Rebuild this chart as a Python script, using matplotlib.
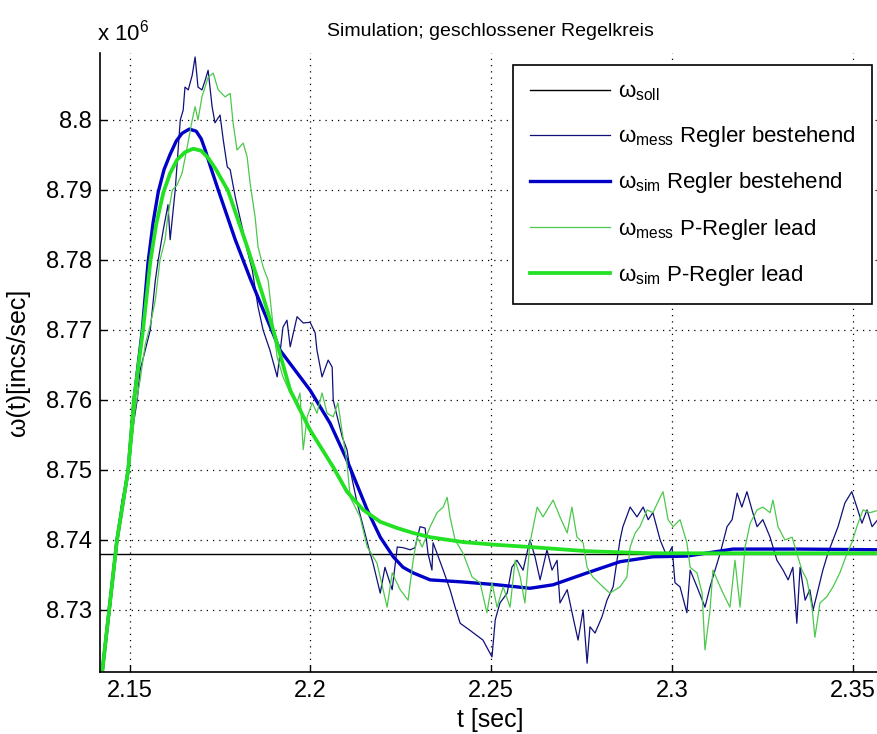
import matplotlib
matplotlib.use("Agg")
import matplotlib.pyplot as plt

plt.rcParams['font.family'] = ['Liberation Sans', 'DejaVu Sans']
plt.rcParams['mathtext.fontset'] = 'custom'
plt.rcParams['mathtext.rm'] = 'Liberation Sans'
plt.rcParams['mathtext.it'] = 'Liberation Sans'

# omega values in units of 1e6 incs/sec
w_soll = 8.738

t_sim_b = [2.1424, 2.1465, 2.1496, 2.1512, 2.1535, 2.1551, 2.1565, 2.1579, 2.1595, 2.1612,
           2.1629, 2.1645, 2.1665, 2.1684, 2.1698, 2.1709, 2.1725, 2.1745, 2.1792, 2.1833,
           2.1869, 2.1916, 2.1999, 2.2054, 2.2101, 2.2157, 2.2193, 2.2229, 2.2256, 2.2284,
           2.2331, 2.2422, 2.2516, 2.2607, 2.2671, 2.2765, 2.2856, 2.2947, 2.3041, 2.3168,
           2.3354, 2.3575]
w_sim_b = [8.7211, 8.7400, 8.7500, 8.7600, 8.7700, 8.7797, 8.7854, 8.7897, 8.7929, 8.7951,
           8.7970, 8.7981, 8.7987, 8.7984, 8.7973, 8.7957, 8.7931, 8.7900, 8.7829, 8.7774,
           8.7729, 8.7671, 8.7614, 8.7567, 8.7514, 8.7443, 8.7404, 8.7376, 8.7361, 8.7353,
           8.7343, 8.7340, 8.7336, 8.7331, 8.7336, 8.7353, 8.7369, 8.7376, 8.7377, 8.7387,
           8.7387, 8.7386]

t_sim_g = [2.1424, 2.1465, 2.1496, 2.1512, 2.1537, 2.1557, 2.1573, 2.1593, 2.1612, 2.1631,
           2.1653, 2.1676, 2.1698, 2.1717, 2.1739, 2.1772, 2.1825, 2.1866, 2.1897, 2.1944,
           2.1999, 2.2063, 2.2101, 2.2146, 2.2193, 2.2240, 2.2284, 2.2331, 2.2422, 2.2516,
           2.2607, 2.2765, 2.2947, 2.3132, 2.3575]
w_sim_g = [8.7211, 8.7400, 8.7500, 8.7600, 8.7700, 8.7797, 8.7850, 8.7896, 8.7924, 8.7943,
           8.7954, 8.7959, 8.7956, 8.7946, 8.7929, 8.7899, 8.7819, 8.7753, 8.7700, 8.7614,
           8.7557, 8.7504, 8.7469, 8.7443, 8.7426, 8.7417, 8.7410, 8.7404, 8.7397, 8.7393,
           8.7390, 8.7384, 8.7381, 8.7381, 8.7381]

t_mess_b = [2.1424, 2.1446, 2.1463, 2.1479, 2.1493, 2.1501, 2.1512, 2.1521, 2.1529, 2.1543,
            2.1557, 2.1571, 2.1579, 2.1593, 2.1606, 2.1612, 2.1626, 2.1640, 2.1648, 2.1653,
            2.1662, 2.1673, 2.1681, 2.1689, 2.1700, 2.1709, 2.1717, 2.1728, 2.1736, 2.1750,
            2.1759, 2.1770, 2.1778, 2.1792, 2.1811, 2.1825, 2.1839, 2.1855, 2.1869, 2.1888,
            2.1908, 2.1924, 2.1935, 2.1944, 2.1963, 2.1980, 2.1999, 2.2013, 2.2018, 2.2032,
            2.2049, 2.2060, 2.2063, 2.2074, 2.2088, 2.2101, 2.2110, 2.2129, 2.2146, 2.2165,
            2.2173, 2.2193, 2.2206, 2.2226, 2.2240, 2.2256, 2.2276, 2.2289, 2.2303, 2.2317,
            2.2325, 2.2336, 2.2339, 2.2350, 2.2367, 2.2386, 2.2400, 2.2414, 2.2441, 2.2477,
            2.2502, 2.2511, 2.2524, 2.2544, 2.2557, 2.2571, 2.2588, 2.2607, 2.2621, 2.2635,
            2.2654, 2.2668, 2.2682, 2.2690, 2.2710, 2.2726, 2.2740, 2.2754, 2.2765, 2.2773,
            2.2787, 2.2806, 2.2820, 2.2837, 2.2856, 2.2864, 2.2884, 2.2903, 2.2920, 2.2934,
            2.2947, 2.2967, 2.2986, 2.3000, 2.3008, 2.3022, 2.3041, 2.3050, 2.3069, 2.3091,
            2.3105, 2.3113, 2.3133, 2.3152, 2.3166, 2.3180, 2.3193, 2.3207, 2.3221, 2.3235,
            2.3251, 2.3271, 2.3290, 2.3307, 2.3321, 2.3334, 2.3345, 2.3354, 2.3368, 2.3381,
            2.3390, 2.3417, 2.3431, 2.3445, 2.3459, 2.3478, 2.3497, 2.3511, 2.3525, 2.3539,
            2.3553, 2.3575]
w_mess_b = [8.7211, 8.7300, 8.7393, 8.7457, 8.7489, 8.7521, 8.7571, 8.7600, 8.7643, 8.7671,
            8.7700, 8.7771, 8.7800, 8.7843, 8.7879, 8.7829, 8.7900, 8.8000, 8.8014, 8.8047,
            8.8043, 8.8064, 8.8090, 8.8047, 8.8043, 8.8057, 8.8071, 8.8019, 8.7996, 8.8007,
            8.7971, 8.7933, 8.7929, 8.7890, 8.7847, 8.7814, 8.7786, 8.7733, 8.7700, 8.7671,
            8.7633, 8.7704, 8.7714, 8.7676, 8.7719, 8.7710, 8.7711, 8.7696, 8.7671, 8.7633,
            8.7657, 8.7647, 8.7600, 8.7576, 8.7547, 8.7529, 8.7500, 8.7453, 8.7419, 8.7381,
            8.7367, 8.7324, 8.7361, 8.7329, 8.7390, 8.7389, 8.7386, 8.7389, 8.7419, 8.7417,
            8.7381, 8.7357, 8.7396, 8.7381, 8.7357, 8.7329, 8.7304, 8.7281, 8.7271, 8.7257,
            8.7233, 8.7286, 8.7310, 8.7324, 8.7361, 8.7371, 8.7357, 8.7400, 8.7376, 8.7343,
            8.7386, 8.7357, 8.7371, 8.7310, 8.7329, 8.7290, 8.7257, 8.7300, 8.7224, 8.7276,
            8.7267, 8.7290, 8.7314, 8.7333, 8.7400, 8.7419, 8.7447, 8.7433, 8.7447, 8.7429,
            8.7439, 8.7400, 8.7376, 8.7390, 8.7339, 8.7333, 8.7296, 8.7357, 8.7333, 8.7304,
            8.7333, 8.7347, 8.7381, 8.7419, 8.7429, 8.7467, 8.7447, 8.7469, 8.7443, 8.7419,
            8.7429, 8.7404, 8.7371, 8.7357, 8.7343, 8.7361, 8.7281, 8.7361, 8.7314, 8.7329,
            8.7300, 8.7357, 8.7381, 8.7400, 8.7419, 8.7453, 8.7469, 8.7447, 8.7424, 8.7443,
            8.7419, 8.7433]

t_mess_g = [2.1424, 2.1446, 2.1465, 2.1479, 2.1496, 2.1507, 2.1515, 2.1529, 2.1543, 2.1557,
            2.1571, 2.1584, 2.1598, 2.1606, 2.1618, 2.1631, 2.1645, 2.1659, 2.1673, 2.1681,
            2.1689, 2.1700, 2.1717, 2.1731, 2.1745, 2.1764, 2.1778, 2.1786, 2.1797, 2.1814,
            2.1825, 2.1833, 2.1847, 2.1855, 2.1869, 2.1883, 2.1897, 2.1908, 2.1924, 2.1944,
            2.1963, 2.1971, 2.1980, 2.1991, 2.2005, 2.2018, 2.2032, 2.2046, 2.2063, 2.2076,
            2.2088, 2.2101, 2.2110, 2.2137, 2.2157, 2.2184, 2.2212, 2.2226, 2.2248, 2.2270,
            2.2284, 2.2295, 2.2309, 2.2331, 2.2350, 2.2367, 2.2378, 2.2386, 2.2400, 2.2422,
            2.2447, 2.2469, 2.2488, 2.2502, 2.2516, 2.2533, 2.2552, 2.2566, 2.2580, 2.2593,
            2.2607, 2.2627, 2.2643, 2.2671, 2.2690, 2.2710, 2.2723, 2.2737, 2.2754, 2.2765,
            2.2781, 2.2809, 2.2828, 2.2856, 2.2875, 2.2884, 2.2898, 2.2911, 2.2931, 2.2947,
            2.2967, 2.2975, 2.2989, 2.3003, 2.3022, 2.3041, 2.3050, 2.3069, 2.3083, 2.3091,
            2.3105, 2.3113, 2.3133, 2.3141, 2.3160, 2.3174, 2.3188, 2.3202, 2.3216, 2.3235,
            2.3251, 2.3271, 2.3279, 2.3293, 2.3312, 2.3332, 2.3345, 2.3359, 2.3373, 2.3387,
            2.3395, 2.3409, 2.3428, 2.3445, 2.3464, 2.3484, 2.3497, 2.3511, 2.3528, 2.3547,
            2.3575]
w_mess_g = [8.7211, 8.7300, 8.7393, 8.7443, 8.7493, 8.7543, 8.7586, 8.7629, 8.7679, 8.7707,
            8.7743, 8.7800, 8.7829, 8.7864, 8.7900, 8.7907, 8.7924, 8.7961, 8.8000, 8.8019,
            8.8000, 8.8033, 8.8061, 8.8067, 8.8043, 8.8033, 8.8038, 8.7996, 8.7957, 8.7967,
            8.7947, 8.7910, 8.7861, 8.7819, 8.7790, 8.7771, 8.7704, 8.7661, 8.7633, 8.7610,
            8.7596, 8.7610, 8.7529, 8.7576, 8.7596, 8.7581, 8.7610, 8.7581, 8.7576, 8.7596,
            8.7553, 8.7510, 8.7461, 8.7433, 8.7390, 8.7367, 8.7304, 8.7353, 8.7329, 8.7314,
            8.7371, 8.7404, 8.7390, 8.7419, 8.7439, 8.7447, 8.7461, 8.7433, 8.7400, 8.7381,
            8.7347, 8.7339, 8.7296, 8.7339, 8.7304, 8.7333, 8.7304, 8.7371, 8.7347, 8.7310,
            8.7396, 8.7447, 8.7433, 8.7457, 8.7433, 8.7410, 8.7447, 8.7404, 8.7396, 8.7361,
            8.7347, 8.7333, 8.7324, 8.7333, 8.7347, 8.7390, 8.7410, 8.7419, 8.7443, 8.7439,
            8.7461, 8.7469, 8.7429, 8.7419, 8.7429, 8.7396, 8.7361, 8.7353, 8.7324, 8.7243,
            8.7300, 8.7357, 8.7333, 8.7324, 8.7304, 8.7371, 8.7304, 8.7390, 8.7424, 8.7443,
            8.7447, 8.7439, 8.7457, 8.7419, 8.7400, 8.7404, 8.7381, 8.7357, 8.7343, 8.7304,
            8.7261, 8.7310, 8.7319, 8.7333, 8.7353, 8.7381, 8.7396, 8.7419, 8.7443, 8.7439,
            8.7443]

x_ticks = [2.15, 2.2, 2.25, 2.3, 2.35]
x_ticklabels = ['2.15', '2.2', '2.25', '2.3', '2.35']
y_ticks = [8.73, 8.74, 8.75, 8.76, 8.77, 8.78, 8.79, 8.8]
y_ticklabels = ['8.73', '8.74', '8.75', '8.76', '8.77', '8.78', '8.79', '8.8']

fig = plt.figure(figsize=(8.77, 7.34), dpi=100)
ax = fig.add_axes([100 / 877, 62 / 734, 780 / 877, 619 / 734])

t_lim = [2.1418, 2.3575]
ax.plot(t_lim, [w_soll, w_soll], color='black', lw=1.0, label=r'$\omega_{\mathrm{soll}}$')
ax.plot(t_mess_b, w_mess_b, color='#10107a', lw=0.9, label=r'$\omega_{\mathrm{mess}}$ Regler bestehend')
ax.plot(t_sim_b, w_sim_b, color='#0000c8', lw=2.4, label=r'$\omega_{\mathrm{sim}}$ Regler bestehend')
ax.plot(t_mess_g, w_mess_g, color='#4cc84c', lw=0.9, label=r'$\omega_{\mathrm{mess}}$ P-Regler lead')
ax.plot(t_sim_g, w_sim_g, color='#22e022', lw=2.7, label=r'$\omega_{\mathrm{sim}}$ P-Regler lead')

ax.set_xlim(t_lim)
ax.set_ylim(8.72114, 8.80957)
ax.set_xticks(x_ticks)
ax.set_xticklabels(x_ticklabels)
ax.set_yticks(y_ticks)
ax.set_yticklabels(y_ticklabels)
ax.tick_params(direction='in', length=5, width=1, labelsize=17, pad=6)
ax.spines['top'].set_visible(False)
ax.spines['right'].set_visible(False)
ax.spines['left'].set_linewidth(1.2)
ax.spines['bottom'].set_linewidth(1.2)
ax.grid(True, color='black', linestyle=(0, (1, 4)), linewidth=0.9)

fig.text(490 / 877, 1 - 36 / 734, 'Simulation; geschlossener Regelkreis',
         ha='center', va='baseline', fontsize=14)
fig.text(97 / 877, 1 - 40 / 734, r'x 10$^{6}$', ha='left', va='baseline', fontsize=16)
fig.text(490 / 877, 1 - 727 / 734, 't [sec]', ha='center', va='baseline', fontsize=18)
fig.text(18 / 877, 1 - 362 / 734, 'ω(t)[incs/sec]', ha='center', va='center',
         rotation=90, fontsize=18)

leg = ax.legend(loc='upper right', bbox_to_anchor=(872 / 877, 1 - 65 / 734),
                bbox_transform=fig.transFigure, borderaxespad=0, fontsize=16,
                fancybox=False, framealpha=1, edgecolor='black',
                handlelength=3.6, handletextpad=0.35, labelspacing=0.95, borderpad=0.75)
leg.get_frame().set_linewidth(1.2)

fig.savefig('out.png', dpi=100)
